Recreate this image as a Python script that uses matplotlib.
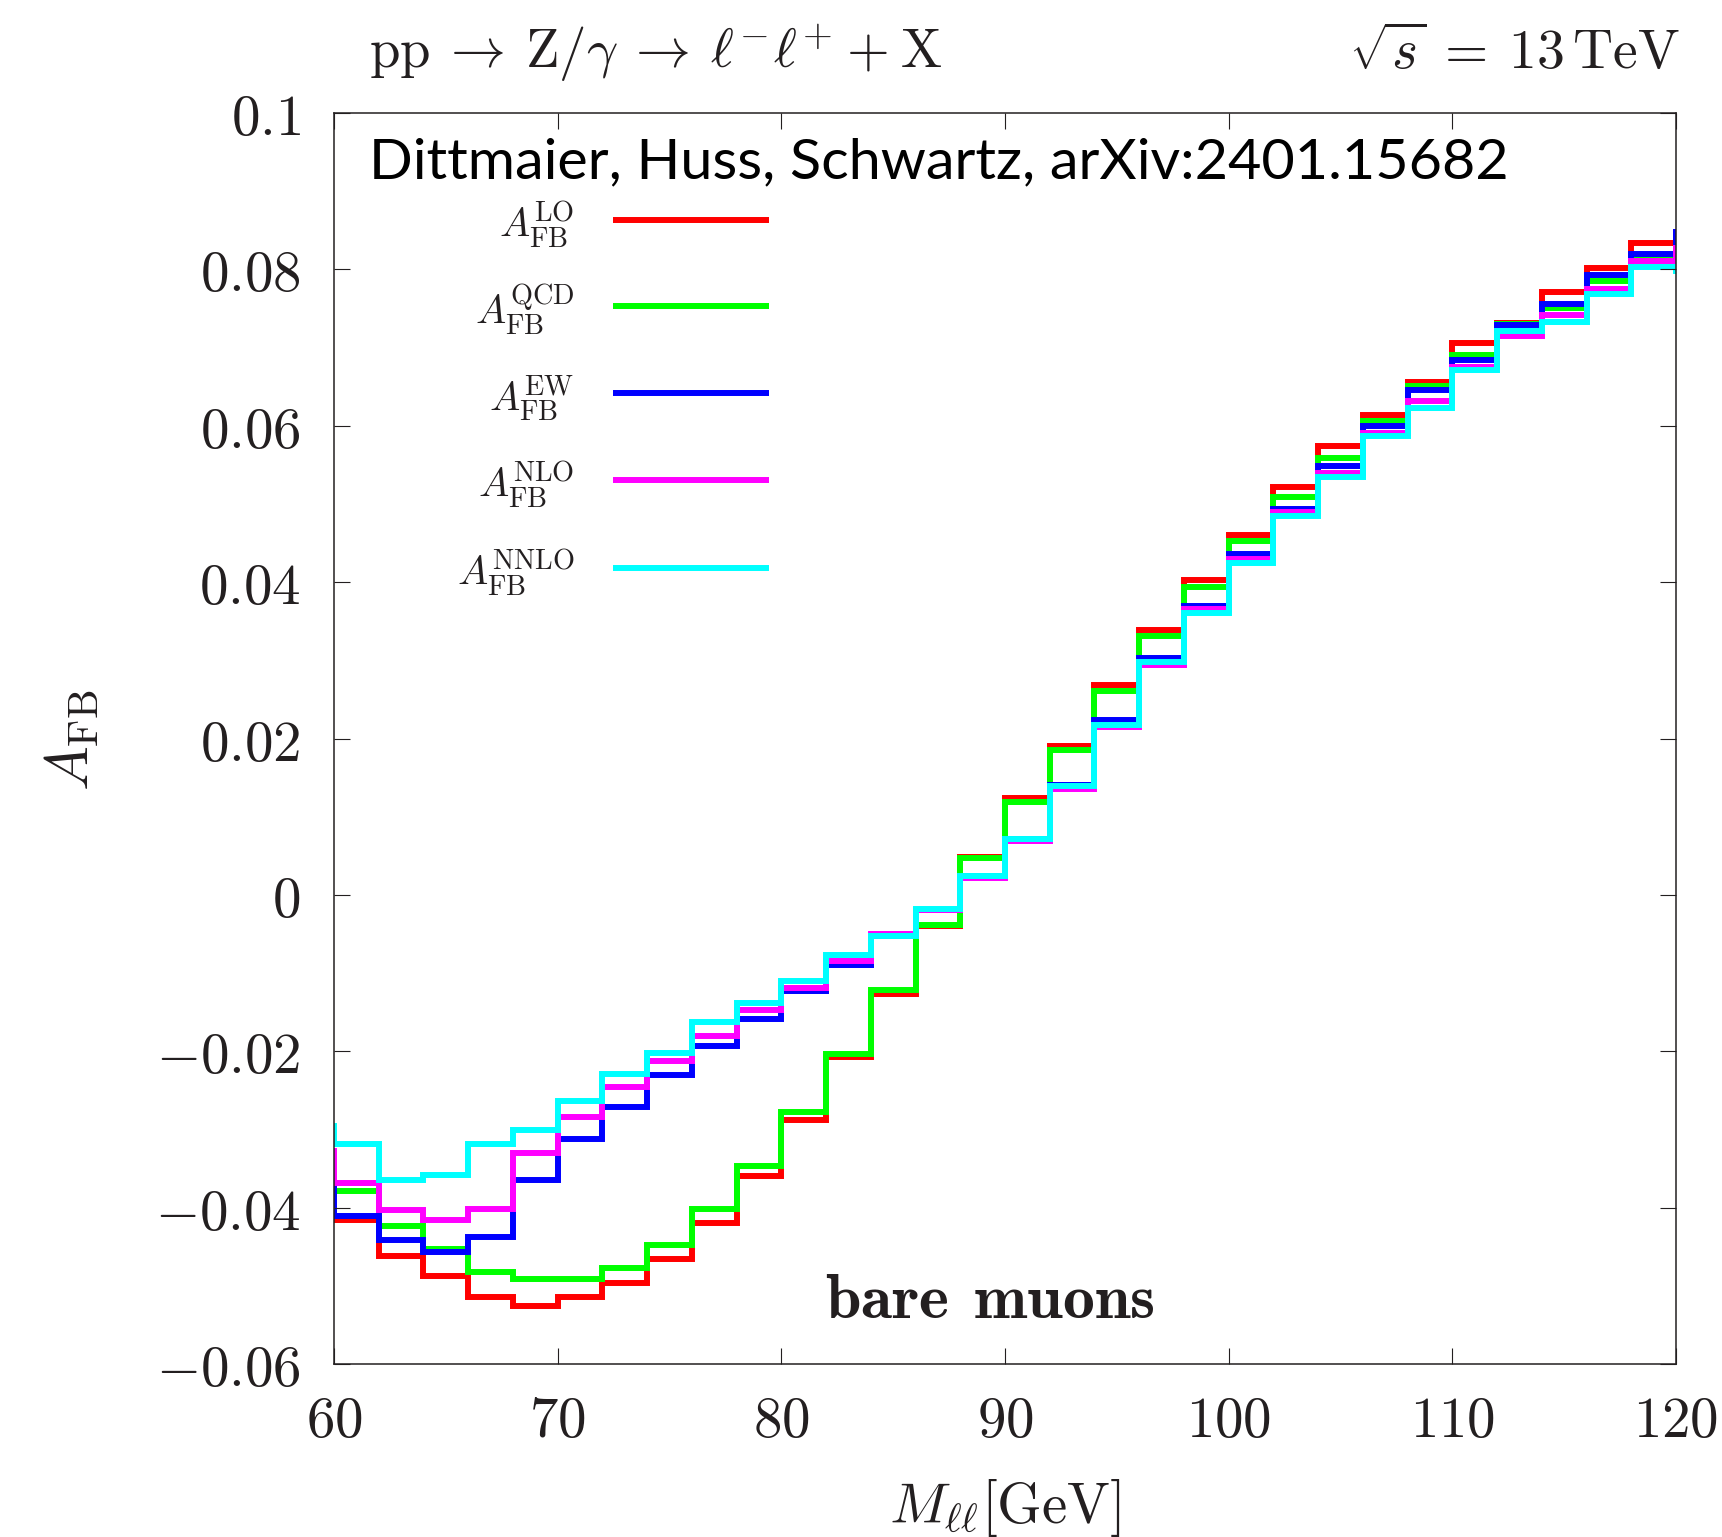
import matplotlib
matplotlib.use("Agg")
import matplotlib.pyplot as plt
import numpy as np

plt.rcParams['mathtext.fontset'] = 'cm'
plt.rcParams['font.family'] = ['DejaVu Serif']

# ---- data -------------------------------------------------------------
# bin edges (GeV); first and last bins lie just outside the plotted range
edges = np.arange(58, 124, 2)

A_LO = [-0.0416,
        -0.0416, -0.0462, -0.0487, -0.0514, -0.0525, -0.0514, -0.0496, -0.0465,
        -0.0419, -0.0359, -0.0288, -0.0207, -0.0126, -0.0040, 0.0049, 0.0124,
        0.0191, 0.0268, 0.0339, 0.0403, 0.0460, 0.0522, 0.0574, 0.0614,
        0.0656, 0.0706, 0.0731, 0.0771, 0.0802, 0.0834,
        0.0848]
A_QCD = [-0.0379,
         -0.0379, -0.0423, -0.0452, -0.0482, -0.0491, -0.0491, -0.0477, -0.0448,
         -0.0402, -0.0347, -0.0278, -0.0203, -0.0122, -0.0038, 0.0047, 0.0119,
         0.0185, 0.0261, 0.0331, 0.0394, 0.0453, 0.0509, 0.0558, 0.0606,
         0.0650, 0.0690, 0.0730, 0.0750, 0.0785, 0.0814,
         0.0830]
A_EW = [-0.0375,
        -0.0411, -0.0441, -0.0456, -0.0437, -0.0365, -0.0312, -0.0271, -0.0230,
        -0.0193, -0.0158, -0.0123, -0.0089, -0.0053, -0.0019, 0.0024, 0.0072,
        0.0140, 0.0224, 0.0303, 0.0370, 0.0436, 0.0494, 0.0548, 0.0599,
        0.0645, 0.0684, 0.0729, 0.0755, 0.0793, 0.0820,
        0.0848]
A_NLO = [-0.0327,
         -0.0368, -0.0403, -0.0416, -0.0401, -0.0330, -0.0284, -0.0246, -0.0212,
         -0.0180, -0.0147, -0.0119, -0.0085, -0.0050, -0.0019, 0.0022, 0.0069,
         0.0136, 0.0215, 0.0294, 0.0366, 0.0430, 0.0489, 0.0540, 0.0591,
         0.0631, 0.0675, 0.0714, 0.0741, 0.0775, 0.0810,
         0.0827]
A_NNLO = [-0.0295,
          -0.0319, -0.0364, -0.0358, -0.0318, -0.0301, -0.0264, -0.0229, -0.0202,
          -0.0162, -0.0138, -0.0110, -0.0077, -0.0053, -0.0018, 0.0024, 0.0072,
          0.0139, 0.0217, 0.0298, 0.0361, 0.0424, 0.0484, 0.0534, 0.0587,
          0.0623, 0.0671, 0.0721, 0.0733, 0.0768, 0.0803,
          0.0798]

series_labels = [r'$A_{\mathrm{FB}}^{\mathrm{LO}}$', r'$A_{\mathrm{FB}}^{\mathrm{QCD}}$',
                 r'$A_{\mathrm{FB}}^{\mathrm{EW}}$', r'$A_{\mathrm{FB}}^{\mathrm{NLO}}$',
                 r'$A_{\mathrm{FB}}^{\mathrm{NNLO}}$']
series_colors = ['#ff0000', '#00ff00', '#0000ff', '#ff00ff', '#00ffff']

xticks = [60, 70, 80, 90, 100, 110, 120]
yticks = [-0.06, -0.04, -0.02, 0.0, 0.02, 0.04, 0.06, 0.08, 0.1]
yticklabels = [r'$-0.06$', r'$-0.04$', r'$-0.02$', r'$0$', r'$0.02$', r'$0.04$',
               r'$0.06$', r'$0.08$', r'$0.1$']

# ---- figure -----------------------------------------------------------
TXT = '#231f20'
fig = plt.figure(figsize=(17.22, 15.37), dpi=100)
ax = fig.add_axes([0.19396, 0.11236, 0.77933, 0.81431])

lw = 4.3
for vals, col in zip([A_LO, A_QCD, A_EW, A_NLO, A_NNLO], series_colors):
    ax.stairs(vals, edges, baseline=None, color=col, lw=lw)

ax.set_xlim(60, 120)
ax.set_ylim(-0.06, 0.1)
ax.set_xticks(xticks)
ax.set_xticklabels([rf'${v}$' for v in xticks])
ax.set_yticks(yticks)
ax.set_yticklabels(yticklabels)
ax.tick_params(direction='in', length=11.5, width=0.8, top=True, right=True,
               labelsize=41, colors=TXT, pad=21)
ax.tick_params(axis='y', pad=24)
for sp in ax.spines.values():
    sp.set_linewidth(1.1)
    sp.set_color(TXT)

# legend (manual, label right-aligned left of line)
ys = [0.9146, 0.8452, 0.7759, 0.7065, 0.6364]
for lab, col, y in zip(series_labels, series_colors, ys):
    ax.plot([0.208, 0.324], [y, y], transform=ax.transAxes, color=col, lw=lw,
            solid_capstyle='butt')
    ax.text(0.1788, y - 0.0141, lab, transform=ax.transAxes, ha='right',
            va='baseline', fontsize=29, color=TXT)

# credit text, fitted to width
t = ax.text(0.0261, 0.9478, 'Dittmaier, Huss, Schwartz, arXiv:2401.15682',
            transform=ax.transAxes, ha='left', va='baseline', fontsize=40,
            family=['Lato', 'DejaVu Sans'], color='black')
fig.canvas.draw()
r = fig.canvas.get_renderer()
w = t.get_window_extent(r).width
t.set_fontsize(40 * 1139.0 / w)

ax.text(0.4888, 0.037, r'$\mathbf{bare}\;\,\mathbf{muons}$', transform=ax.transAxes,
        ha='center', va='baseline', fontsize=46, color=TXT)

# titles
fig.text(0.2143, 0.9558,
         r'$\mathrm{pp}\:\to\:\mathrm{Z}/\gamma\:\to\:\ell^{-}\ell^{+}\:+\:\mathrm{X}$',
         ha='left', va='baseline', fontsize=39.5, color=TXT)
fig.text(0.9756, 0.9558, r'$\sqrt{s}\:=\:13\,\mathrm{TeV}$',
         ha='right', va='baseline', fontsize=40, color=TXT)

# axis labels
fig.text(0.5836, 0.0091, r'$M_{\ell\ell}[\mathrm{GeV}]$', ha='center', va='baseline',
         fontsize=41, color=TXT)
fig.text(0.0418, 0.5185, r'$A_{\mathrm{FB}}$', ha='center', va='center',
         rotation=90, fontsize=43, color=TXT)

fig.savefig('out.png', dpi=100)
